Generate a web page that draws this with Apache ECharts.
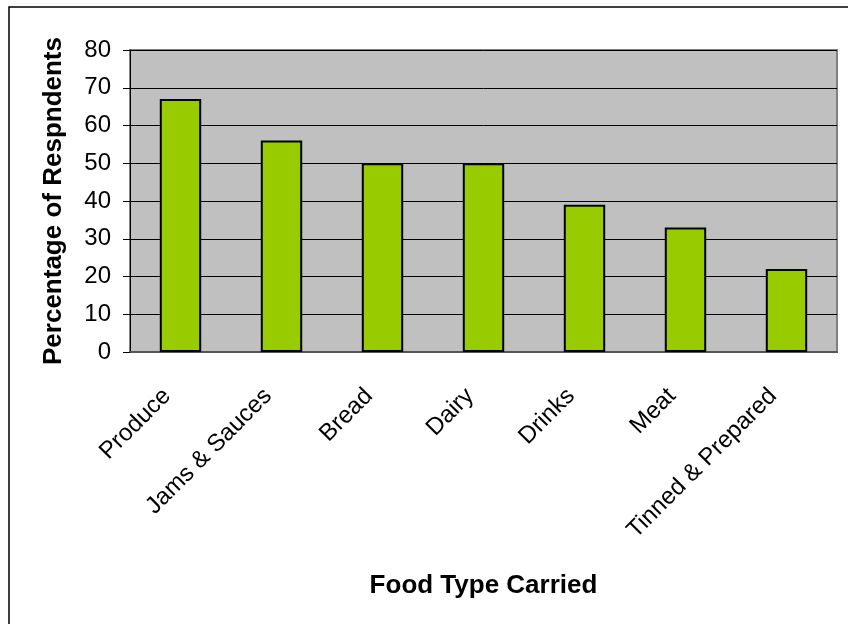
<!DOCTYPE html>
<html>
<head>
<meta charset="utf-8">
<script src="https://cdn.jsdelivr.net/npm/echarts@6/dist/echarts.min.js"></script>
<style>
  html, body { margin: 0; padding: 0; background: #fff; }
  #chart { width: 848px; height: 624px; }
</style>
</head>
<body>
<div id="chart"></div>
<script>
// Food types and share of respondents carrying them
const categories = ['Produce', 'Jams & Sauces', 'Bread', 'Dairy', 'Drinks', 'Meat', 'Tinned & Prepared'];
const percentages = [67, 56, 50, 50, 39, 33, 22];

const font = 'Arial, "Liberation Sans", sans-serif';

const chart = echarts.init(document.getElementById('chart'), null, { renderer: 'canvas' });

chart.setOption({
  animation: false,
  backgroundColor: '#ffffff',
  graphic: [{
    type: 'rect',
    shape: { x: 9, y: 7, width: 900, height: 700 },
    style: { fill: 'none', stroke: '#000', lineWidth: 1.5 },
    silent: true
  }],
  grid: {
    left: 130, right: 11, top: 50, bottom: 272,
    show: true,
    backgroundColor: '#C0C0C0',
    borderColor: '#808080',
    borderWidth: 2
  },
  xAxis: {
    type: 'category',
    data: categories,
    name: 'Food Type Carried',
    nameLocation: 'middle',
    nameGap: 221,
    nameTextStyle: { fontFamily: font, fontSize: 26, fontWeight: 'bold', color: '#000' },
    axisLine: { lineStyle: { color: '#555', width: 2 } },
    axisTick: { length: 6, lineStyle: { color: '#555' } },
    axisLabel: {
      rotate: 45, fontFamily: font, fontSize: 24, color: '#000',
      margin: 27, padding: [0, 19, 0, 0], interval: 0
    }
  },
  yAxis: {
    type: 'value',
    min: 0, max: 80, interval: 10,
    name: 'Percentage of Respndents',
    nameLocation: 'middle',
    nameGap: 63,
    nameTextStyle: { fontFamily: font, fontSize: 26, fontWeight: 'bold', color: '#000' },
    axisLine: { show: true, lineStyle: { color: '#000', width: 1 } },
    axisTick: { show: true, length: 7, lineStyle: { color: '#000' } },
    axisLabel: { fontFamily: font, fontSize: 24, color: '#000', margin: 19 },
    splitLine: { lineStyle: { color: '#000', width: 1 } }
  },
  series: [{
    type: 'bar',
    data: percentages,
    barWidth: '41%',
    itemStyle: { color: '#99CC00', borderColor: '#000', borderWidth: 2 }
  }]
});
</script>
</body>
</html>
